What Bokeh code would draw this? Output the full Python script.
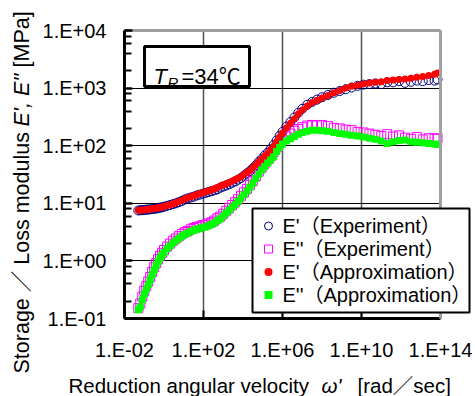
import numpy as np
from math import pi
from bokeh.plotting import figure
from bokeh.models import (Label, BoxAnnotation, Legend, LegendItem, FixedTicker,
                          LogTicker, LogAxis, CustomJSTickFormatter, Range1d, Grid)
from bokeh.embed import file_html
from bokeh.resources import INLINE

# ---------------- data (log10 values) ----------------
log_omega = [-1.3, -1.2, -1.1, -1.0, -0.9, -0.8, -0.7, -0.6, -0.5, -0.4, -0.3, -0.2, -0.1,
             0.0, 0.15, 0.3, 0.45, 0.6, 0.75, 0.9, 1.05, 1.2, 1.35, 1.5, 1.65, 1.8, 1.95,
             2.1, 2.25, 2.4, 2.55, 2.7, 2.85, 3.0, 3.15, 3.3, 3.45, 3.6, 3.75, 3.9, 4.05,
             4.2, 4.35, 4.5, 4.65, 4.8, 4.95, 5.1, 5.25, 5.4, 5.55, 5.7, 5.85, 6.0, 6.2,
             6.4, 6.6, 6.8, 7.0, 7.25, 7.5, 7.75, 8.0, 8.3, 8.6, 8.9, 9.2, 9.5, 9.8, 10.1,
             10.4, 10.7, 11.0, 11.3, 11.6, 11.9, 12.2, 12.5, 12.8, 13.1, 13.4, 13.7, 13.85]

log_E1_exp = [0.875, 0.88, 0.88, 0.885, 0.89, 0.89, 0.895, 0.90, 0.905, 0.91, 0.915, 0.925, 0.93,
              0.94, 0.955, 0.97, 0.985, 1.0, 1.02, 1.04, 1.065, 1.085, 1.10, 1.115, 1.135, 1.15, 1.165,
              1.18, 1.195, 1.21, 1.225, 1.245, 1.27, 1.29, 1.31, 1.33, 1.355, 1.38, 1.41, 1.44, 1.48,
              1.52, 1.56, 1.61, 1.66, 1.72, 1.77, 1.83, 1.88, 1.94, 2.01, 2.09, 2.17, 2.24, 2.33,
              2.41, 2.49, 2.57, 2.64, 2.71, 2.76, 2.80, 2.84, 2.88, 2.92, 2.95, 2.98, 3.01, 3.04, 3.06,
              3.07, 3.08, 3.07, 3.10, 3.10, 3.12, 3.09, 3.11, 3.13, 3.12, 3.14, 3.13, 3.15]

log_E2_exp = [-0.82, -0.74, -0.62, -0.52, -0.44, -0.36, -0.28, -0.19, -0.11, -0.04, 0.03, 0.09, 0.14,
              0.19, 0.25, 0.30, 0.35, 0.39, 0.43, 0.47, 0.50, 0.52, 0.55, 0.57, 0.59, 0.60, 0.62,
              0.63, 0.65, 0.67, 0.70, 0.74, 0.77, 0.82, 0.87, 0.92, 0.97, 1.02, 1.07, 1.13, 1.19,
              1.25, 1.32, 1.39, 1.47, 1.55, 1.62, 1.69, 1.76, 1.82, 1.89, 1.97, 2.05, 2.11, 2.16,
              2.21, 2.26, 2.29, 2.32, 2.35, 2.36, 2.35, 2.36, 2.34, 2.31, 2.30, 2.28, 2.27, 2.24, 2.23,
              2.21, 2.19, 2.17, 2.20, 2.16, 2.18, 2.14, 2.12, 2.15, 2.11, 2.13, 2.12, 2.13]

log_E1_fit = [0.88, 0.88, 0.885, 0.89, 0.89, 0.895, 0.90, 0.905, 0.91, 0.915, 0.92, 0.93, 0.935,
              0.945, 0.96, 0.975, 0.99, 1.01, 1.03, 1.05, 1.075, 1.10, 1.115, 1.13, 1.15, 1.165, 1.185,
              1.20, 1.215, 1.235, 1.25, 1.275, 1.30, 1.32, 1.34, 1.36, 1.385, 1.41, 1.435, 1.46, 1.50,
              1.535, 1.57, 1.62, 1.67, 1.72, 1.77, 1.82, 1.87, 1.93, 1.99, 2.07, 2.15, 2.22, 2.31,
              2.39, 2.47, 2.55, 2.62, 2.69, 2.75, 2.79, 2.83, 2.87, 2.92, 2.96, 3.00, 3.03, 3.05, 3.07,
              3.09, 3.10, 3.11, 3.13, 3.14, 3.15, 3.16, 3.17, 3.19, 3.20, 3.22, 3.24, 3.26]

log_E2_fit = [-0.85, -0.80, -0.68, -0.58, -0.50, -0.42, -0.33, -0.24, -0.16, -0.08, -0.01, 0.05, 0.10,
              0.15, 0.21, 0.26, 0.31, 0.35, 0.39, 0.43, 0.46, 0.48, 0.51, 0.53, 0.55, 0.56, 0.58,
              0.59, 0.61, 0.63, 0.66, 0.70, 0.73, 0.78, 0.83, 0.88, 0.93, 0.98, 1.03, 1.09, 1.15,
              1.21, 1.28, 1.35, 1.43, 1.51, 1.58, 1.64, 1.70, 1.75, 1.81, 1.90, 1.97, 2.03, 2.08,
              2.12, 2.16, 2.20, 2.23, 2.25, 2.27, 2.27, 2.26, 2.25, 2.23, 2.21, 2.20, 2.18, 2.17, 2.15,
              2.13, 2.11, 2.08, 2.04, 2.07, 2.09, 2.10, 2.07, 2.06, 2.05, 2.04, 2.03, 2.02]

x_ticks = [1e-2, 1e2, 1e6, 1e10, 1e14]
y_ticks = [1e-1, 1e0, 1e1, 1e2, 1e3, 1e4]
legend_labels = ["E'（Experiment）", "E''（Experiment）", "E'（Approximation）", "E''（Approximation）"]
ref_temp_text = "=34℃"

omega = np.power(10.0, log_omega)
E1_exp = np.power(10.0, log_E1_exp)
E2_exp = np.power(10.0, log_E2_exp)
E1_fit = np.power(10.0, log_E1_fit)
E2_fit = np.power(10.0, log_E2_fit)

# ---------------- layout helpers (pixel positions -> data space) ----------------
FONT = "Liberation Sans, Noto Sans CJK JP"
W, H = 475, 396
FL, FR, FT, FB = 124, 440, 30, 318          # plotting area in pixels
XMIN, XMAX, YMIN, YMAX = x_ticks[0], x_ticks[-1], y_ticks[0], y_ticks[-1]
LX0, LX1, LY0, LY1 = np.log10([XMIN, XMAX, YMIN, YMAX])


def sx(px):
    return 10 ** (LX0 + (px - FL) * (LX1 - LX0) / (FR - FL))


def sy(py):
    return 10 ** (LY1 - (py - FT) * (LY1 - LY0) / (FB - FT))


p = figure(width=W, height=H, x_axis_type="log", y_axis_type="log",
           x_range=Range1d(sx(0), sx(W)), y_range=Range1d(sy(H), sy(0)),
           output_backend="svg", toolbar_location=None, title=None,
           min_border_left=0, min_border_right=0, min_border_top=0, min_border_bottom=0)
p.background_fill_color = "white"
p.border_fill_color = "white"
p.outline_line_color = None

fmt = CustomJSTickFormatter(code="""
const e = Math.round(Math.log10(tick));
const s = e < 0 ? "-" : "+";
const a = Math.abs(e);
return "1.E" + s + (a < 10 ? "0" + a : "" + a);
""")

xa = p.xaxis[0]
ya = p.yaxis[0]
xa.ticker = FixedTicker(ticks=x_ticks, minor_ticks=[])
ya.ticker = LogTicker(desired_num_ticks=6)
xa.fixed_location = YMIN
ya.fixed_location = XMIN
xa.bounds = (XMIN, XMAX)
ya.bounds = (YMIN, YMAX)
for ax in (xa, ya):
    ax.formatter = fmt
    ax.axis_line_width = 3
    ax.axis_line_color = "black"
    ax.major_tick_in = 8
    ax.major_tick_out = 0
    ax.major_tick_line_width = 2
    ax.minor_tick_in = 7
    ax.minor_tick_out = 0
    ax.minor_tick_line_width = 2
    ax.major_label_text_font = FONT
    ax.major_label_text_font_size = "20px"
    ax.major_label_text_color = "black"
ya.major_label_standoff = 18
xa.major_label_standoff = 20

# grey frame on top and right
for side, loc, bnds in (("above", YMAX, (XMIN, XMAX)), ("right", XMAX, (YMIN, YMAX))):
    b = LogAxis(fixed_location=loc, bounds=bnds, ticker=FixedTicker(ticks=[], minor_ticks=[]),
                axis_line_color="#a0a0a0", axis_line_width=3,
                major_tick_in=0, major_tick_out=0, minor_tick_in=0, minor_tick_out=0)
    p.add_layout(b, side)

# grid
p.xgrid.ticker = FixedTicker(ticks=x_ticks[1:-1], minor_ticks=[])
p.ygrid.ticker = FixedTicker(ticks=y_ticks[1:-1], minor_ticks=[])
p.xgrid.grid_line_color = "#505050"
p.xgrid.grid_line_width = 1.5
p.ygrid.grid_line_color = "black"
p.ygrid.grid_line_width = 1
if "cross_bounds" in Grid.properties():
    p.xgrid.cross_bounds = (YMIN, YMAX)
    p.ygrid.cross_bounds = (XMIN, XMAX)
else:
    p.xgrid.visible = False
    p.ygrid.visible = False
    p.segment(x0=x_ticks[1:-1], x1=x_ticks[1:-1], y0=YMIN, y1=YMAX,
              line_color="#505050", line_width=1.5)
    p.segment(x0=XMIN, x1=XMAX, y0=y_ticks[1:-1], y1=y_ticks[1:-1],
              line_color="black", line_width=1)

r1 = p.scatter(omega, E1_exp, marker="circle", size=9, fill_color=None,
               line_color="#000080", line_width=1)
r2 = p.scatter(omega, E2_exp, marker="square", size=9, fill_color=None,
               line_color="#FF00FF", line_width=1)
r3 = p.scatter(omega, E1_fit, marker="circle", size=7, fill_color="#FF0000",
               line_color=None)
r4 = p.scatter(omega, E2_fit, marker="square", size=7, fill_color="#00FF00",
               line_color=None)

# legend: white framed box, Bokeh Legend symbols, label texts for exact row spacing
LEG_LEFT, LEG_TOP, LEG_PAD, LEG_ROW, LEG_GLYPH, LEG_STANDOFF = 252, 208, 6, 23, 20, 4
LEG_W = 217
LEG_H = 2 * LEG_PAD + 4 * LEG_ROW
leg_box = BoxAnnotation(left=sx(LEG_LEFT), right=sx(LEG_LEFT + LEG_W),
                        top=sy(LEG_TOP), bottom=sy(LEG_TOP + LEG_H),
                        fill_color="white", fill_alpha=1, line_color="black",
                        line_alpha=1, line_width=2)
p.add_layout(leg_box)

legend = Legend(items=[LegendItem(label=" ", renderers=[r]) for r in [r1, r2, r3, r4]],
                location=(LEG_LEFT, H - (LEG_TOP + LEG_H)))
legend.label_text_font_size = "1px"
legend.label_width = LEG_W - 2 * LEG_PAD - LEG_GLYPH - LEG_STANDOFF
legend.label_height = LEG_ROW
legend.glyph_height = LEG_ROW
legend.glyph_width = LEG_GLYPH
legend.label_standoff = LEG_STANDOFF
legend.padding = LEG_PAD
legend.spacing = 0
legend.margin = 0
legend.border_line_alpha = 0
legend.background_fill_alpha = 0
p.add_layout(legend, "center")

text_x = LEG_LEFT + LEG_PAD + LEG_GLYPH + LEG_STANDOFF
for i, txt in enumerate(legend_labels):
    row_mid = LEG_TOP + LEG_PAD + LEG_ROW * (i + 0.5)
    p.add_layout(Label(x=sx(text_x), y=sy(row_mid), text=txt, text_align="left",
                       text_baseline="middle", text_font=FONT, text_font_size="20px",
                       text_color="black", level="overlay"))

# reference temperature box
box = BoxAnnotation(left=sx(144), right=sx(249), top=sy(46), bottom=sy(86),
                    fill_color="white", fill_alpha=1, line_color="black", line_alpha=1,
                    line_width=3)
p.add_layout(box)
p.add_layout(Label(x=sx(153), y=sy(76), text="T", text_font=FONT, text_font_style="italic",
                   text_font_size="22px", text_baseline="alphabetic", text_color="black",
                   level="overlay"))
p.add_layout(Label(x=sx(167), y=sy(82), text="R", text_font=FONT, text_font_style="italic",
                   text_font_size="15px", text_baseline="alphabetic", text_color="black",
                   level="overlay"))
p.add_layout(Label(x=sx(181), y=sy(76), text=ref_temp_text, text_font=FONT,
                   text_font_size="22px", text_baseline="alphabetic", text_color="black",
                   level="overlay"))

# y-axis title (mixed styles)
for txt, start, style in [("Storage ／ Loss modulus", 373, "normal"),
                          ("E', E''", 126, "italic"),
                          ("[MPa]", 67, "normal")]:
    p.add_layout(Label(x=sx(21), y=sy(start), text=txt, angle=pi / 2, text_align="left",
                       text_baseline="middle", text_font=FONT, text_font_style=style,
                       text_font_size="21.5px", text_color="black"))

# x-axis title (mixed styles)
for txt, start, style in [("Reduction angular velocity", 68, "normal"),
                          ("ω'", 321, "italic"),
                          ("[rad／sec]", 357, "normal")]:
    p.add_layout(Label(x=sx(start), y=sy(385), text=txt, text_align="left",
                       text_baseline="middle", text_font=FONT, text_font_style=style,
                       text_font_size="20.5px", text_color="black"))

open("out.html", "w").write(file_html(p, INLINE))
